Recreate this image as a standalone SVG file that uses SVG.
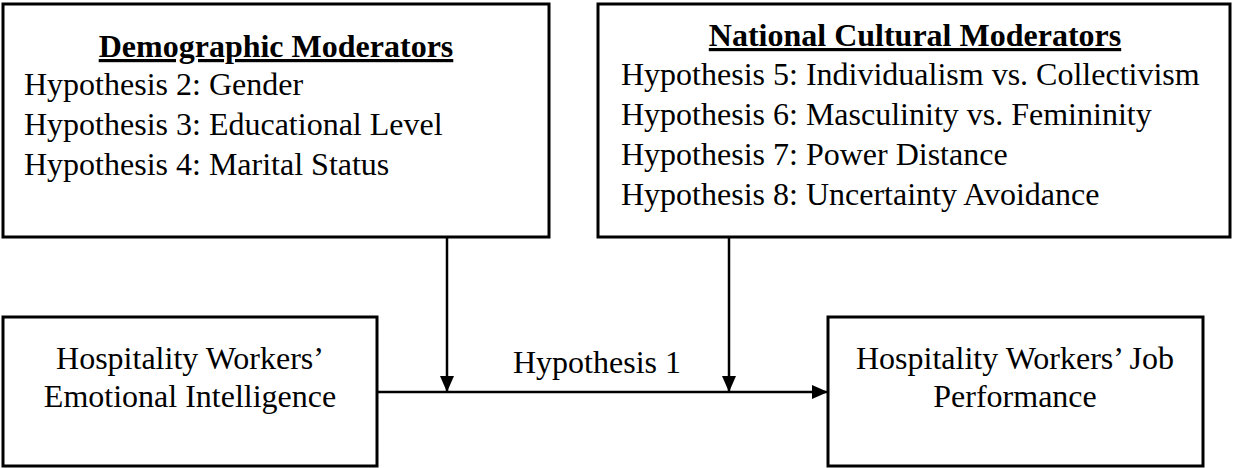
<svg xmlns="http://www.w3.org/2000/svg" width="1234" height="468" viewBox="0 0 1234 468">
<style>
.box{fill:#fff;stroke:#000;stroke-width:3}
.t{font-family:"Liberation Serif","Times New Roman",serif;font-size:32px;fill:#000}
.b{font-weight:bold;text-decoration:underline}
.c{text-anchor:middle}
.ln{stroke:#000;stroke-width:2.5;fill:none}
</style>
<defs>
<marker id="ah" markerWidth="16" markerHeight="16" viewBox="0 0 16 16" refX="16" refY="8" orient="auto" markerUnits="userSpaceOnUse">
<path d="M0,1 L16,8 L0,15 Z" fill="#000"/>
</marker>
</defs>
<rect width="1234" height="468" fill="#fff"/>
<g id="demographic">
<rect class="box" x="3" y="4" width="546" height="233"/>
<text class="t b c" x="276" y="57">Demographic Moderators</text>
<text class="t" x="24" y="95">Hypothesis 2: Gender</text>
<text class="t" x="24" y="135">Hypothesis 3: Educational Level</text>
<text class="t" x="24" y="175">Hypothesis 4: Marital Status</text>
</g>
<g id="cultural">
<rect class="box" x="598" y="4" width="632" height="233"/>
<text class="t b c" x="915" y="46">National Cultural Moderators</text>
<text class="t" x="621" y="85">Hypothesis 5: Individualism vs. Collectivism</text>
<text class="t" x="621" y="125">Hypothesis 6: Masculinity vs. Femininity</text>
<text class="t" x="621" y="165">Hypothesis 7: Power Distance</text>
<text class="t" x="621" y="205">Hypothesis 8: Uncertainty Avoidance</text>
</g>
<g id="ei">
<rect class="box" x="3" y="317" width="374" height="149"/>
<text class="t c" x="190" y="369">Hospitality Workers’</text>
<text class="t c" x="190" y="407">Emotional Intelligence</text>
</g>
<g id="jp">
<rect class="box" x="828" y="317" width="375" height="149"/>
<text class="t c" x="1015" y="369">Hospitality Workers’ Job</text>
<text class="t c" x="1015" y="407">Performance</text>
</g>
<g id="connectors">
<line class="ln" x1="377" y1="392" x2="828" y2="392" marker-end="url(#ah)"/>
<line class="ln" x1="447" y1="237" x2="447" y2="392" marker-end="url(#ah)"/>
<line class="ln" x1="729" y1="237" x2="729" y2="392" marker-end="url(#ah)"/>
<text class="t c" x="597" y="373">Hypothesis 1</text>
</g>
</svg>
